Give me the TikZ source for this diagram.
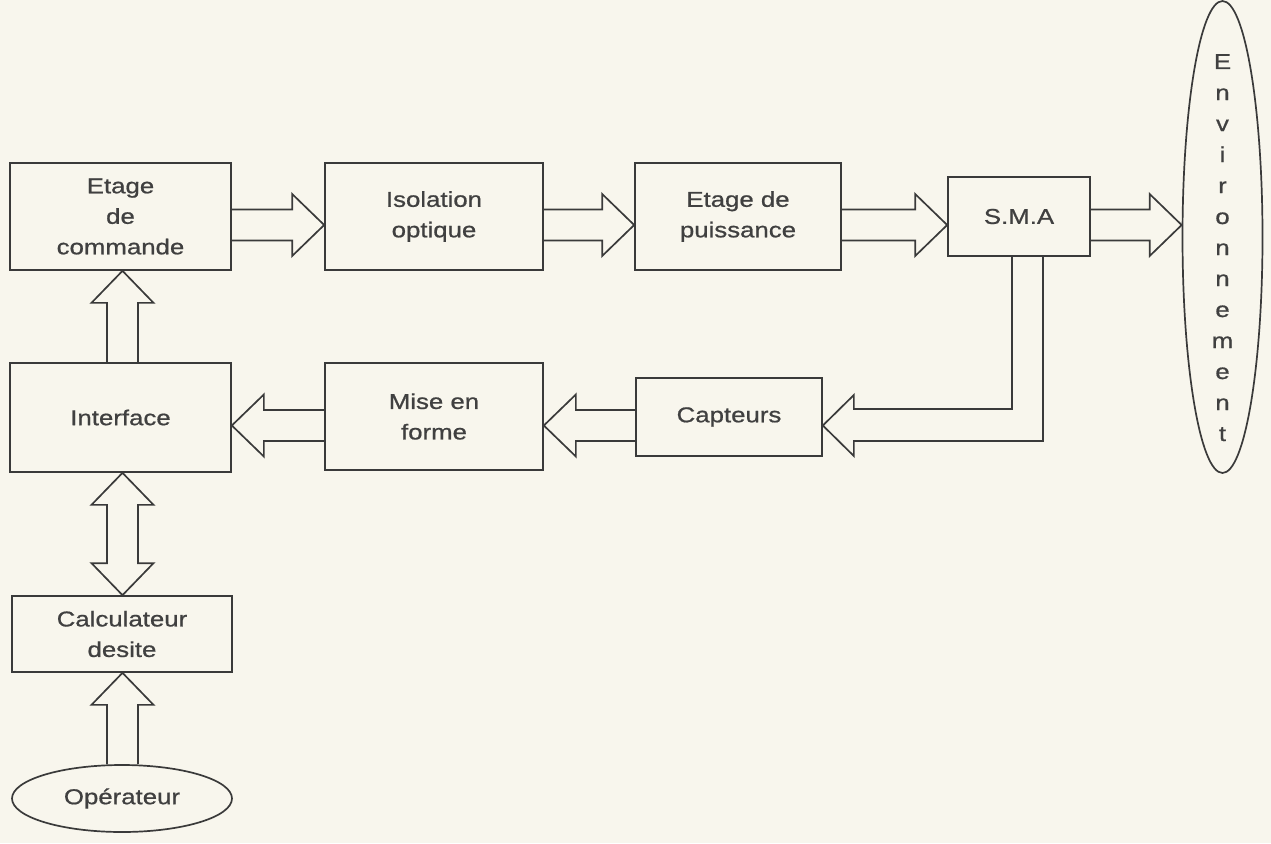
\documentclass[tikz,border=0pt]{standalone}
\usepackage{fontspec}
\setmainfont{Liberation Sans}[FakeStretch=1.2, FakeBold=0.8]
\usetikzlibrary{calc,shapes.geometric}
\definecolor{paper}{RGB}{248,246,237}
\definecolor{ink}{RGB}{58,58,58}
\definecolor{txt}{RGB}{64,64,64}
\tikzset{
  blk/.style={draw=ink, line width=1.7pt, inner sep=0pt, align=center, text=txt,
              font=\fontsize{21.5}{30.5}\selectfont},
  oval/.style={blk, ellipse},
  fat/.style={draw=ink, line width=1.7pt, line join=miter},
  lett/.style={text=txt, font=\fontsize{21.5}{30.5}\selectfont, inner sep=0pt, anchor=base}
}
\newcommand\fatarrow[2]{%
  \coordinate (fa-s) at (#1);
  \coordinate (fa-t) at (#2);
  \coordinate (fa-b) at ($(fa-t)!32pt!(fa-s)$);
  \draw[fat] ($(fa-s)!15.5pt!90:(fa-t)$) -- ($(fa-b)!15.5pt!90:(fa-t)$) -- ($(fa-b)!31pt!90:(fa-t)$) -- (fa-t)
     -- ($(fa-b)!31pt!-90:(fa-t)$) -- ($(fa-b)!15.5pt!-90:(fa-t)$) -- ($(fa-s)!15.5pt!-90:(fa-t)$);
}
\newcommand\dfatarrow[2]{%
  \coordinate (fa-s) at (#1);
  \coordinate (fa-t) at (#2);
  \coordinate (fa-b) at ($(fa-t)!32pt!(fa-s)$);
  \coordinate (fa-a) at ($(fa-s)!32pt!(fa-t)$);
  \draw[fat] (fa-s) -- ($(fa-a)!31pt!90:(fa-t)$) -- ($(fa-a)!15.5pt!90:(fa-t)$) -- ($(fa-b)!15.5pt!90:(fa-t)$)
     -- ($(fa-b)!31pt!90:(fa-t)$) -- (fa-t) -- ($(fa-b)!31pt!-90:(fa-t)$) -- ($(fa-b)!15.5pt!-90:(fa-t)$)
     -- ($(fa-a)!15.5pt!-90:(fa-t)$) -- ($(fa-a)!31pt!-90:(fa-t)$) -- cycle;
}
\begin{document}
\begin{tikzpicture}[x=1pt, y=-1pt]
  \fill[paper] (0,0) rectangle (1271,843);
  \useasboundingbox (0,0) rectangle (1271,843);

  % blocks
  \node[blk, minimum width=221pt, minimum height=107pt] (cmd) at (120.5,216.5) {Etage\\de\\commande};
  \node[blk, minimum width=218pt, minimum height=107pt] (iso) at (434,216.5) {Isolation\\optique};
  \node[blk, minimum width=206pt, minimum height=107pt] (pui) at (738,216.5) {Etage de\\puissance};
  \node[blk, minimum width=142pt, minimum height=79pt] (sma) at (1019,216.5) {S.M.A};
  \node[oval, minimum width=80pt, minimum height=472pt] (env) at (1222.5,237) {};
  \node[blk, minimum width=221pt, minimum height=109pt] (itf) at (120.5,417.5) {Interface};
  \node[blk, minimum width=218pt, minimum height=107pt] (mef) at (434,416.5) {Mise en\\forme};
  \node[blk, minimum width=186pt, minimum height=78pt] (cap) at (729,417) {Capteurs};
  \node[blk, minimum width=220pt, minimum height=76pt] (calc) at (122,634) {Calculateur\\desite};
  \node[oval, minimum width=220pt, minimum height=67pt] (op) at (122,798.5) {Opérateur};

  % vertical text of Environnement
  \foreach \l [count=\i] in {E,n,v,i,r,o,n,n,e,m,e,n,t}
    \node[lett] (envl\i) at ($(env.center)+(0,-168+31*\i-31)$) {\l};

  % helper rows/columns
  \coordinate (toprow) at (0,225);
  \coordinate (botrow) at (0,425.5);
  \coordinate (col) at (122.5,0);
  \coordinate (fbi) at (1012,0);
  \coordinate (fbo) at (1043,0);

  % top row arrows
  \fatarrow{cmd.east |- toprow}{iso.west |- toprow}
  \fatarrow{iso.east |- toprow}{pui.west |- toprow}
  \fatarrow{pui.east |- toprow}{sma.west |- toprow}
  \fatarrow{sma.east |- toprow}{env.west |- toprow}

  % bottom row arrows
  \fatarrow{cap.west |- botrow}{mef.east |- botrow}
  \fatarrow{mef.west |- botrow}{itf.east |- botrow}

  % feedback from S.M.A to Capteurs
  \draw[fat] (sma.south -| fbo) |- ($(cap.east)+(31,24)$) -- ($(cap.east)+(31,39)$)
     -- ($(cap.east)+(0,8.5)$) -- ($(cap.east)+(31,-22)$) -- ($(cap.east)+(31,-8)$) -| (sma.south -| fbi);

  % vertical arrows
  \fatarrow{itf.north -| col}{cmd.south -| col}
  \dfatarrow{itf.south -| col}{calc.north -| col}
  \fatarrow{op.north -| col}{calc.south -| col}
\end{tikzpicture}
\end{document}
